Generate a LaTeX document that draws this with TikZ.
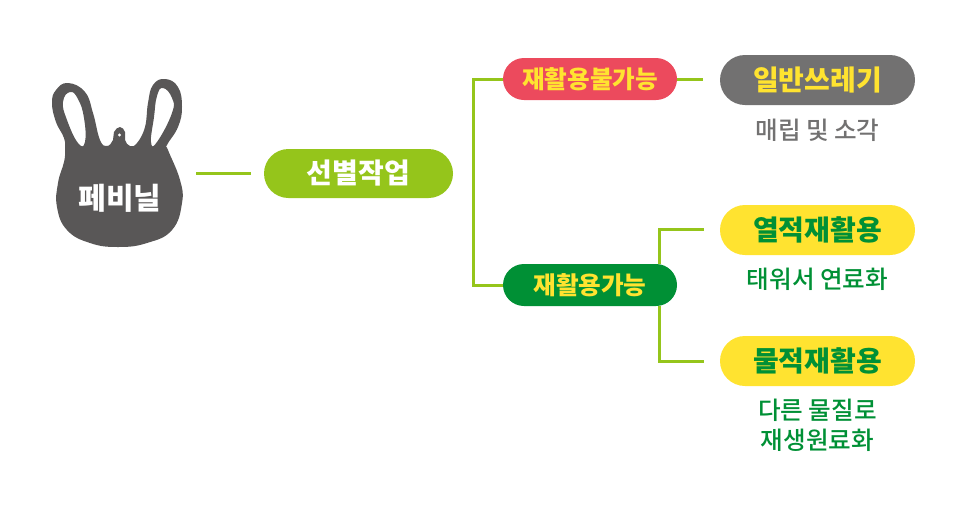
\documentclass[tikz,border=0pt]{standalone}
\usepackage{fontspec}
\setmainfont{Noto Sans CJK KR}
\newfontfamily\krm{Noto Sans CJK KR Medium}
\definecolor{linegreen}{HTML}{95C51B}
\definecolor{bagdark}{HTML}{595757}
\definecolor{limepill}{HTML}{95C51B}
\definecolor{redpill}{HTML}{EC4A5D}
\definecolor{greypill}{HTML}{727171}
\definecolor{greenpill}{HTML}{009035}
\definecolor{yellowpill}{HTML}{FFE330}
\tikzset{
  pill/.style={rounded rectangle, minimum width=#1, inner sep=0pt, font=\fontsize{24.6}{24.6}\selectfont\bfseries},
  bigtext/.style={font=\fontsize{28}{28}\selectfont\bfseries},
  conn/.style={draw=linegreen, line width=3pt},
  sublabel/.style={align=center, inner sep=0pt, font=\krm\fontsize{24.6}{30}\selectfont},
}
\usetikzlibrary{shapes.misc}
\begin{document}
\begin{tikzpicture}[x=1pt,y=-1pt]
\useasboundingbox (0,0) rectangle (961,509);
\fill[bagdark, even odd rule]
  plot[smooth cycle, tension=.75] coordinates {
  (68,83)(56,90)(52,103)(56,122)(64,138)(65,150)(64,162)(58,183)(57,207)(67,230)(90,243)(118,247)(147,243)(172,230)(182,203)(180,180)(168,150)(167,145)(178,127)(182,107)(178,87)(165,79)(153,85)(148,103)(145,127)(137,143)(130,146)(125,140)(125,132)(120,127)(114,132)(113,140)(107,146)(100,140)(93,113)(85,92)}
  plot[smooth cycle, tension=.8] coordinates {
  (70,92)(63,102)(67,120)(78,143)(85,142)(84,118)(78,99)}
  plot[smooth cycle, tension=.8] coordinates {
  (163,88)(157,96)(154,117)(151,142)(157,142)(172,113)(172,98)};
\fill[white] (119.5,135) circle (1.7);
\node[text=white, inner sep=0pt, font=\fontsize{30}{30}\selectfont\bfseries] (bag) at (120,198) {페비닐};
\node[pill=189, minimum height=49, fill=limepill, text=white, bigtext] (sort) at (358.5,173.5) {선별작업};
\node[pill=174, minimum height=42, fill=redpill, text=yellowpill] (no) at (590,79) {재활용불가능};
\node[pill=174, minimum height=42, fill=greenpill, text=yellowpill] (yes) at (590,285) {재활용가능};
\node[pill=195, minimum height=50, fill=greypill, text=yellowpill, bigtext] (gen) at (817.5,80) {일반쓰레기};
\node[pill=195, minimum height=50, fill=yellowpill, text=greenpill, bigtext] (therm) at (817.5,230) {열적재활용};
\node[pill=195, minimum height=50, fill=yellowpill, text=greenpill, bigtext] (mat) at (817.5,361) {물적재활용};
\node[sublabel, text=greypill] (l1) at (817.5,130) {매립 및 소각};
\node[sublabel, text=greenpill] (l2) at (817.5,279) {태워서 연료화};
\node[sublabel, text=greenpill] (l3) at (817.5,425) {다른 물질로\\재생원료화};
\coordinate (a1) at (196,173.5);
\coordinate (a2) at (251,173.5);
\coordinate (tr) at (473,79);
\coordinate (br) at (473,285);
\coordinate (g1) at (703,79);
\coordinate (t0) at (659,264);
\coordinate (t1) at (659,229);
\coordinate (t2) at (704,229);
\coordinate (m0) at (659,306);
\coordinate (m1) at (659,361);
\coordinate (m2) at (704,361);
\draw[conn] (a1) -- (a2);
\draw[conn] (no.west) -- (tr) -- (br) -- (yes.west);
\draw[conn] (no.east) -- (g1);
\draw[conn] (t0) -- (t1) -- (t2);
\draw[conn] (m0) -- (m1) -- (m2);
\end{tikzpicture}
\end{document}
